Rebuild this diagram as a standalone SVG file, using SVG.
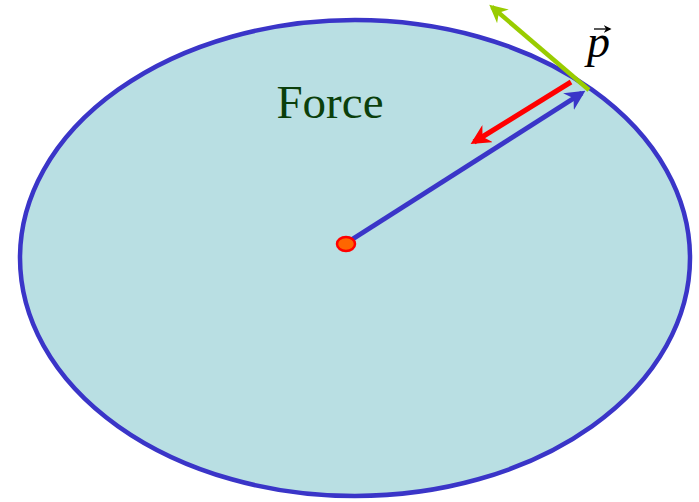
<svg xmlns="http://www.w3.org/2000/svg" width="699" height="502" viewBox="0 0 699 502">
<style>
.lbl{font-family:"Liberation Serif","DejaVu Serif",serif;}
</style>
<defs>
<marker id="ahB" viewBox="0 0 10 10" refX="8" refY="5" markerWidth="4" markerHeight="4" orient="auto" markerUnits="strokeWidth"><path d="M0,0 L10,5 L0,10 L3,5 Z" fill="#3a35c8"/></marker>
<marker id="ahR" viewBox="0 0 10 10" refX="8" refY="5" markerWidth="4" markerHeight="4" orient="auto" markerUnits="strokeWidth"><path d="M0,0 L10,5 L0,10 L3,5 Z" fill="#ff0000"/></marker>
<marker id="ahG" viewBox="0 0 10 10" refX="8" refY="5" markerWidth="4" markerHeight="4" orient="auto" markerUnits="strokeWidth"><path d="M0,0 L10,5 L0,10 L3,5 Z" fill="#99cc00"/></marker>
<marker id="ahK" viewBox="0 0 10 10" refX="8" refY="5" markerWidth="6" markerHeight="6" orient="auto" markerUnits="strokeWidth"><path d="M0,0 L10,5 L0,10 L3,5 Z" fill="#000"/></marker>
</defs>
<g id="orbit">
<ellipse cx="355" cy="258" rx="335" ry="238" fill="#b9dfe3" stroke="#3a35c8" stroke-width="4.5"/>
</g>
<g id="label-force">
<text class="lbl" x="330" y="118" font-size="47" fill="#0b3f0b" text-anchor="middle">Force</text>
</g>
<g id="connectors">
<line x1="348" y1="242" x2="582" y2="93" stroke="#3a35c8" stroke-width="5" marker-end="url(#ahB)"/>
<line x1="571" y1="82" x2="474" y2="142" stroke="#ff0000" stroke-width="5" marker-end="url(#ahR)"/>
<line x1="589" y1="90" x2="492" y2="7" stroke="#99cc00" stroke-width="4.5" marker-end="url(#ahG)"/>
</g>
<g id="center">
<ellipse cx="346" cy="244" rx="9" ry="7" fill="#ff6600" stroke="#ff0000" stroke-width="2.5"/>
</g>
<g id="label-p">
<text class="lbl" x="587" y="57" font-size="46" font-style="italic" fill="#000">p</text>
<line x1="594" y1="29" x2="610" y2="29" stroke="#000" stroke-width="1.3" marker-end="url(#ahK)"/>
</g>
</svg>
